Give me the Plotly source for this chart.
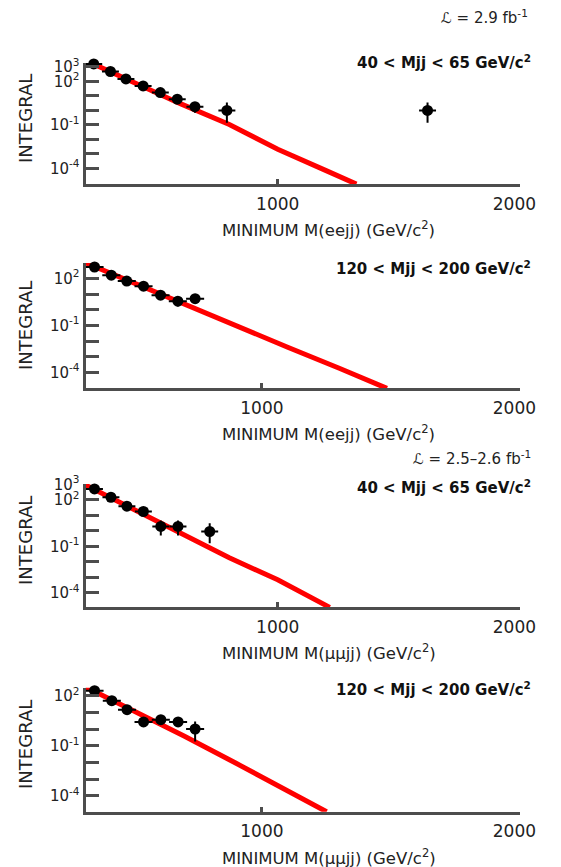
import plotly.graph_objects as go

# ---------------- data ----------------
# Panel 1: electrons, 40 < Mjj < 65
x_ee_lo = [240, 309, 373, 444, 515, 585, 658, 790, 1619]
y_ee_lo = [1600, 480, 148, 49, 17, 5.9, 1.8, 1.0, 1.0]
eup_ee_lo = [40, 22, 12, 7, 4, 2.4, 0.9, 2.5, 2.5]
edn_ee_lo = [40, 22, 12, 7, 4, 2.4, 1.1, 0.86, 0.86]
mx_ee_lo = [206, 400, 600, 800, 1000, 1200, 1325]
my_ee_lo = [2800, 95, 2.8, 0.107, 0.0021, 7.1e-5, 8.3e-6]

# Panel 2: electrons, 120 < Mjj < 200
x_ee_hi = [351, 416, 476, 541, 607, 674, 741]
y_ee_hi = [537, 162, 68, 32, 8.5, 3.5, 5.1]
eup_ee_hi = [23, 13, 8, 5.7, 2.9, 1.9, 2.3]
edn_ee_hi = [23, 13, 8, 5.7, 2.9, 1.9, 2.3]
mx_ee_hi = [316, 500, 700, 900, 1100, 1300, 1485]
my_ee_hi = [1000, 52, 2.2, 0.089, 0.004, 1.8e-4, 9.3e-6]

# Panel 3: muons, 40 < Mjj < 65
x_mm_lo = [243, 311, 377, 445, 517, 588, 719]
y_mm_lo = [513, 148, 39, 17.8, 1.95, 1.95, 0.91]
eup_mm_lo = [23, 12, 6, 4.2, 2.7, 2.7, 2.25]
edn_mm_lo = [23, 12, 6, 4.2, 1.44, 1.44, 0.75]
mx_mm_lo = [206, 400, 600, 800, 1000, 1215]
my_mm_lo = [912, 27, 0.63, 0.0186, 6.9e-4, 1.15e-5]

# Panel 4: muons, 120 < Mjj < 200
x_mm_hi = [351, 418, 477, 541, 608, 675, 741]
y_mm_hi = [204, 51, 14.8, 2.7, 3.7, 2.7, 1.02]
eup_mm_hi = [14, 7, 3.8, 1.6, 1.9, 1.6, 1.87]
edn_mm_hi = [14, 7, 3.8, 1.2, 1.5, 1.2, 0.84]
mx_mm_hi = [316, 500, 700, 900, 1100, 1251]
my_mm_hi = [339, 13.2, 0.37, 0.0089, 2.0e-4, 1.1e-5]

x_half_width = 35  # GeV

titles = ["40 < Mjj < 65 GeV/c<sup>2</sup>", "120 < Mjj < 200 GeV/c<sup>2</sup>",
          "40 < Mjj < 65 GeV/c<sup>2</sup>", "120 < Mjj < 200 GeV/c<sup>2</sup>"]
xtitles = ["MINIMUM M(eejj) (GeV/c<sup>2</sup>)", "MINIMUM M(eejj) (GeV/c<sup>2</sup>)",
           "MINIMUM M(\u03bc\u03bcjj) (GeV/c<sup>2</sup>)", "MINIMUM M(\u03bc\u03bcjj) (GeV/c<sup>2</sup>)"]
lumi_texts = ["\u2112 = 2.9 fb<sup>-1</sup>", "\u2112 = 2.5\u20132.6 fb<sup>-1</sup>"]
x_tickvals = [1000, 2000]
x_ticktext = ["1000", "2000&nbsp;&nbsp;"]

panels = [
    dict(x=x_ee_lo, y=y_ee_lo, eu=eup_ee_lo, ed=edn_ee_lo, mx=mx_ee_lo, my=my_ee_lo,
         xr=[206, 2000], yr=[-5.08, 3.26], top=63, bot=184,
         decades=[3, 2, 1, 0, -1, -2, -3, -4], labeled=[3, 2, -1, -4], title_y=62, ytc=118),
    dict(x=x_ee_hi, y=y_ee_hi, eu=eup_ee_hi, ed=edn_ee_hi, mx=mx_ee_hi, my=my_ee_hi,
         xr=[316, 2000], yr=[-5.03, 2.98], top=263, bot=388.3,
         decades=[2, 1, 0, -1, -2, -3, -4], labeled=[2, -1, -4], title_y=268, ytc=325),
    dict(x=x_mm_lo, y=y_mm_lo, eu=eup_mm_lo, ed=edn_mm_lo, mx=mx_mm_lo, my=my_mm_lo,
         xr=[206, 2000], yr=[-4.94, 3.02], top=484, bot=607.3,
         decades=[3, 2, 1, 0, -1, -2, -3, -4], labeled=[3, 2, -1, -4], title_y=487, ytc=540),
    dict(x=x_mm_hi, y=y_mm_hi, eu=eup_mm_hi, ed=edn_mm_hi, mx=mx_mm_hi, my=my_mm_hi,
         xr=[316, 2000], yr=[-4.96, 2.48], top=687.7, bot=811.7,
         decades=[2, 1, 0, -1, -2, -3, -4], labeled=[2, -1, -4], title_y=689, ytc=744),
]

FW, FH = 561, 867
# visible drawing box of the page in the final picture (measured)
BOX_W, BOX_Y0, BOX_H = 537.0, 10.9, 856.0
LEFT, RIGHT = 86, 522.7
FONT = "DejaVu Sans"
AX = "#4d4d4d"
TXT = "#222222"

def fx(p):
    return p / BOX_W

def fy(p):
    return 1 - (p - BOX_Y0) / BOX_H

fig = go.Figure()
layout = dict(width=FW, height=FH, margin=dict(l=0, r=0, t=0, b=0),
              paper_bgcolor="white", plot_bgcolor="white", showlegend=False,
              font=dict(family=FONT, color=TXT))
annotations = []

for i, p in enumerate(panels, start=1):
    xa = "x" if i == 1 else f"x{i}"
    ya = "y" if i == 1 else f"y{i}"
    fig.add_trace(go.Scatter(x=p["mx"], y=p["my"], mode="lines",
                             line=dict(color="#ff0000", width=5),
                             xaxis=xa, yaxis=ya, hoverinfo="skip"))
    fig.add_trace(go.Scatter(
        x=p["x"], y=p["y"], mode="markers",
        marker=dict(color="black", size=11, symbol="circle"),
        error_x=dict(type="constant", value=x_half_width, color="black", thickness=2, width=0),
        error_y=dict(type="data", array=p["eu"], arrayminus=p["ed"], symmetric=False,
                     color="black", thickness=2, width=0),
        xaxis=xa, yaxis=ya, cliponaxis=False))

    xkey = "xaxis" if i == 1 else f"xaxis{i}"
    ykey = "yaxis" if i == 1 else f"yaxis{i}"
    layout[xkey] = dict(domain=[fx(LEFT), fx(RIGHT)], anchor=ya, range=p["xr"],
                        showgrid=False, zeroline=False, showline=True, linecolor=AX, linewidth=3,
                        ticks="inside", ticklen=5, tickwidth=2.5, tickcolor=AX,
                        tickvals=x_tickvals, ticktext=x_ticktext, ticklabelstandoff=2,
                        ticklabeloverflow="allow",
                        tickfont=dict(size=17, color=TXT, family=FONT))
    tv = [10.0 ** d for d in p["decades"] if d in p["labeled"]]
    tt = [f"10<sup>{d}</sup>" for d in p["decades"] if d in p["labeled"]]
    mv = [10.0 ** d for d in p["decades"] if d not in p["labeled"]]
    layout[ykey] = dict(domain=[fy(p["bot"]), fy(p["top"])], anchor=xa, type="log",
                        range=p["yr"], showgrid=False, zeroline=False, showline=True,
                        linecolor=AX, linewidth=3, ticks="inside", ticklen=13,
                        tickwidth=2.5, tickcolor=AX, tickvals=tv, ticktext=tt,
                        ticklabeloverflow="allow",
                        minor=dict(tickmode="array", tickvals=mv, ticks="inside", ticklen=13,
                                   tickwidth=2.5, tickcolor=AX, showgrid=False),
                        tickfont=dict(size=15, color=TXT, family=FONT))
    annotations.append(dict(text=f"<b>{titles[i-1]}</b>", x=fx(536), y=fy(p["title_y"]),
                            xref="paper", yref="paper", xanchor="right", yanchor="middle",
                            showarrow=False, font=dict(size=15, color="#111111", family=FONT)))
    annotations.append(dict(text=xtitles[i-1], x=fx(330.5), y=fy(p["bot"] + 45),
                            xref="paper", yref="paper", xanchor="center", yanchor="middle",
                            showarrow=False, font=dict(size=16.5, color=TXT, family=FONT)))
    annotations.append(dict(text="INTEGRAL", x=fx(25), y=fy(p["ytc"]),
                            xref="paper", yref="paper", xanchor="center", yanchor="middle",
                            textangle=-90, showarrow=False,
                            font=dict(size=18, color=TXT, family=FONT)))

annotations.append(dict(text=lumi_texts[0], x=fx(533), y=fy(17), xref="paper", yref="paper",
                        xanchor="right", yanchor="middle", showarrow=False,
                        font=dict(size=15, color=TXT, family=FONT)))
annotations.append(dict(text=lumi_texts[1], x=fx(536), y=fy(458), xref="paper", yref="paper",
                        xanchor="right", yanchor="middle", showarrow=False,
                        font=dict(size=15, color=TXT, family=FONT)))

layout["annotations"] = annotations
fig.update_layout(**layout)

pin_script = (
    "document.documentElement.style.margin='0px';"
    "document.documentElement.style.padding='0px';"
    "document.documentElement.style.overflow='hidden';"
    "document.body.style.margin='0px';"
    "document.body.style.padding='0px';"
    "document.body.style.overflow='hidden';"
    "var gd=document.getElementById('{plot_id}');"
    "gd.style.position='fixed';gd.style.left='0px';gd.style.top='0px';"
    "gd.style.overflow='hidden';"
)
fig.write_html("out.html", config={"displayModeBar": False}, post_script=pin_script)
